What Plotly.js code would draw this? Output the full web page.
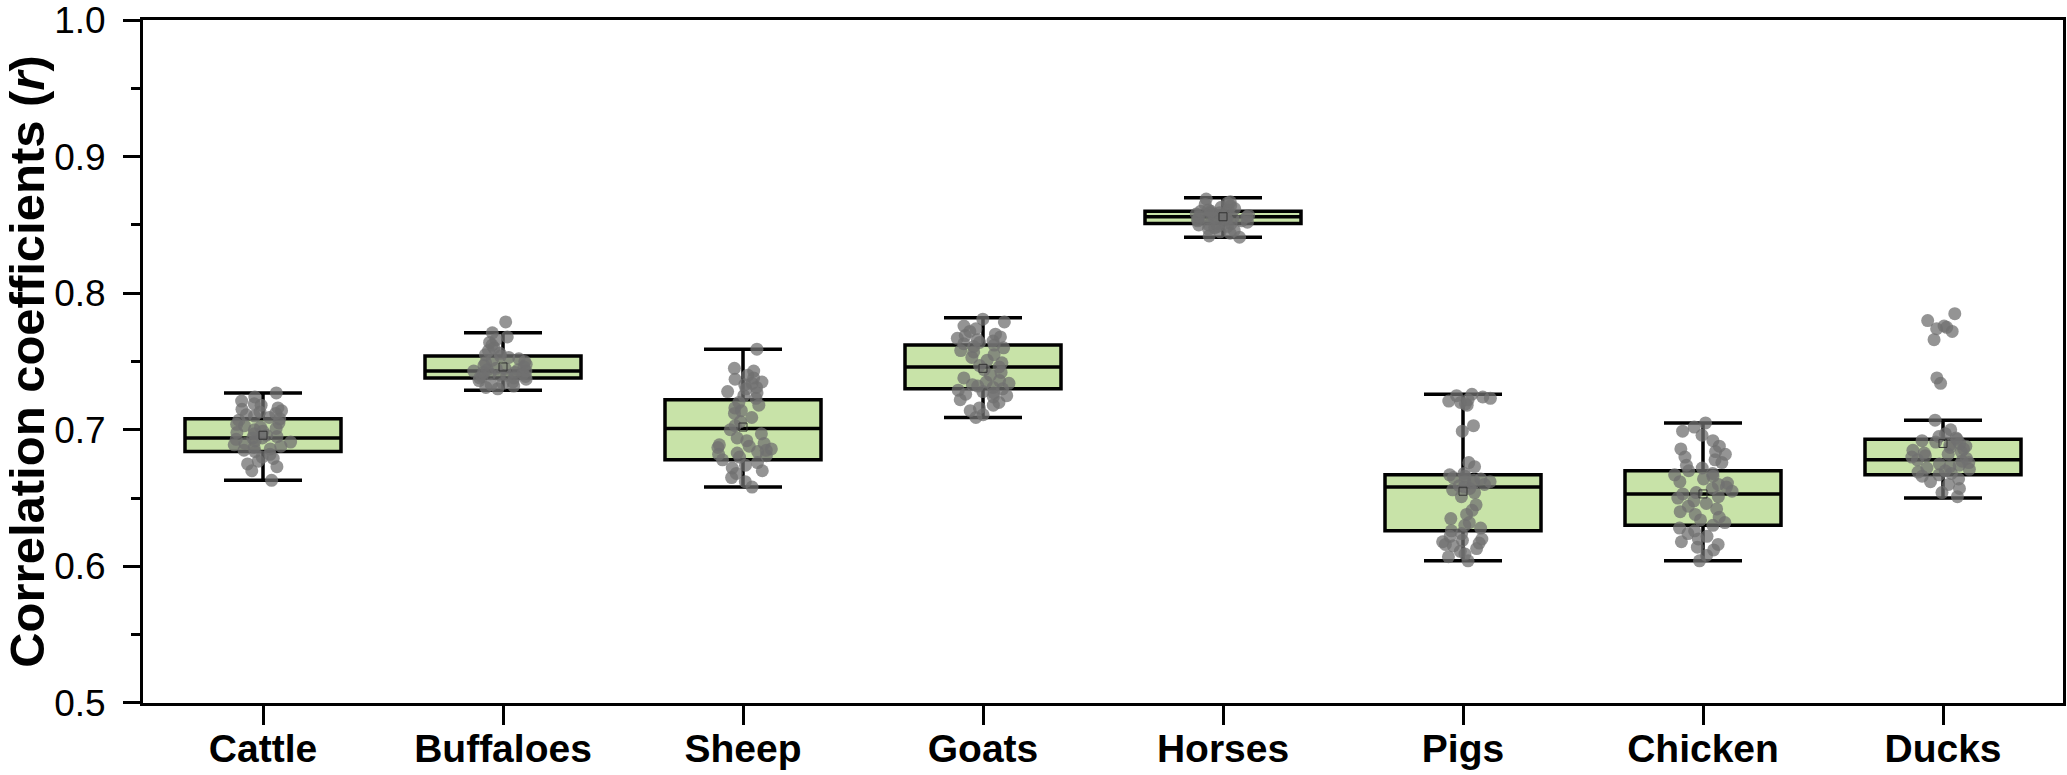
<!DOCTYPE html>
<html>
<head>
<meta charset="utf-8">
<script src="https://cdn.plot.ly/plotly-3.0.1.min.js"></script>
<style>
  body { margin: 0; background: #fff; }
  #plot { width: 2067px; height: 775px; }
</style>
</head>
<body>
<div id="plot"></div>
<script>
// species on the x axis
var species = ["Cattle", "Buffaloes", "Sheep", "Goats", "Horses", "Pigs", "Chicken", "Ducks"];

// box statistics
var q1 = [0.684, 0.738, 0.678, 0.730, 0.851, 0.626, 0.630, 0.667];
var med = [0.694, 0.743, 0.701, 0.746, 0.856, 0.658, 0.653, 0.678];
var q3 = [0.708, 0.754, 0.722, 0.762, 0.860, 0.667, 0.670, 0.693];
var lowWhisker = [0.663, 0.729, 0.658, 0.709, 0.841, 0.604, 0.604, 0.650];
var highWhisker = [0.727, 0.771, 0.759, 0.782, 0.870, 0.726, 0.705, 0.707];
var means = [0.696, 0.746, 0.702, 0.745, 0.856, 0.655, 0.653, 0.690];

// y tick labels
var yTicks = [0.5, 0.6, 0.7, 0.8, 0.9, 1.0];

// individual r values (grey dots)
var cattle = [0.727, 0.724, 0.721, 0.719, 0.718, 0.716, 0.715, 0.714, 0.713, 0.712, 0.711, 0.710, 0.709, 0.708,
  0.707, 0.705, 0.704, 0.703, 0.702, 0.701, 0.700, 0.699, 0.698, 0.697, 0.696, 0.695, 0.694, 0.694, 0.693,
  0.692, 0.691, 0.690, 0.689, 0.688, 0.687, 0.686, 0.685, 0.684, 0.682, 0.680, 0.679, 0.677, 0.675, 0.673,
  0.670, 0.663];
var buffaloes = [0.779, 0.771, 0.768, 0.766, 0.764, 0.762, 0.760, 0.758, 0.756, 0.755, 0.754, 0.753, 0.752,
  0.751, 0.750, 0.749, 0.748, 0.747, 0.746, 0.745, 0.745, 0.744, 0.744, 0.743, 0.743, 0.742, 0.742, 0.741,
  0.741, 0.740, 0.740, 0.739, 0.739, 0.738, 0.738, 0.737, 0.736, 0.735, 0.734, 0.733, 0.732, 0.731, 0.730];
var sheep = [0.759, 0.745, 0.743, 0.740, 0.738, 0.737, 0.735, 0.734, 0.733, 0.731, 0.730, 0.728, 0.727, 0.725,
  0.723, 0.720, 0.718, 0.716, 0.714, 0.712, 0.709, 0.706, 0.703, 0.700, 0.697, 0.694, 0.692, 0.690, 0.689,
  0.688, 0.687, 0.686, 0.685, 0.684, 0.683, 0.682, 0.681, 0.680, 0.678, 0.676, 0.674, 0.672, 0.670, 0.668,
  0.665, 0.662, 0.658];
var goats = [0.781, 0.779, 0.776, 0.774, 0.772, 0.770, 0.769, 0.768, 0.767, 0.766, 0.765, 0.764, 0.763, 0.762,
  0.761, 0.760, 0.758, 0.757, 0.755, 0.753, 0.751, 0.749, 0.747, 0.746, 0.744, 0.742, 0.740, 0.738, 0.736,
  0.735, 0.734, 0.733, 0.732, 0.731, 0.730, 0.729, 0.728, 0.727, 0.726, 0.725, 0.724, 0.722, 0.720, 0.718,
  0.716, 0.714, 0.711, 0.709];
var horses = [0.869, 0.867, 0.866, 0.865, 0.864, 0.863, 0.862, 0.861, 0.861, 0.860, 0.860, 0.859, 0.859, 0.858,
  0.858, 0.857, 0.857, 0.856, 0.856, 0.856, 0.855, 0.855, 0.855, 0.854, 0.854, 0.853, 0.853, 0.852, 0.852,
  0.851, 0.851, 0.850, 0.850, 0.849, 0.849, 0.848, 0.847, 0.846, 0.845, 0.844, 0.842, 0.841];
var pigs = [0.726, 0.725, 0.724, 0.723, 0.722, 0.721, 0.720, 0.719, 0.718, 0.703, 0.699, 0.676, 0.673, 0.668,
  0.667, 0.666, 0.665, 0.664, 0.663, 0.662, 0.662, 0.661, 0.660, 0.659, 0.658, 0.657, 0.656, 0.654, 0.651,
  0.645, 0.641, 0.638, 0.635, 0.632, 0.630, 0.628, 0.626, 0.624, 0.622, 0.620, 0.619, 0.618, 0.617, 0.616,
  0.615, 0.613, 0.611, 0.609, 0.607, 0.604];
var chicken = [0.705, 0.702, 0.699, 0.696, 0.692, 0.688, 0.686, 0.684, 0.682, 0.680, 0.678, 0.676, 0.674, 0.672,
  0.670, 0.668, 0.667, 0.666, 0.664, 0.662, 0.661, 0.660, 0.658, 0.657, 0.655, 0.654, 0.653, 0.651, 0.650,
  0.648, 0.646, 0.644, 0.642, 0.640, 0.638, 0.636, 0.634, 0.632, 0.630, 0.628, 0.626, 0.624, 0.622, 0.620,
  0.618, 0.616, 0.614, 0.612, 0.608, 0.604];
var ducks = [0.785, 0.780, 0.776, 0.775, 0.774, 0.772, 0.766, 0.738, 0.734, 0.707, 0.700, 0.697, 0.695, 0.694,
  0.693, 0.692, 0.691, 0.690, 0.689, 0.688, 0.687, 0.686, 0.685, 0.684, 0.683, 0.682, 0.681, 0.680, 0.679,
  0.678, 0.677, 0.676, 0.675, 0.674, 0.673, 0.672, 0.671, 0.670, 0.669, 0.668, 0.667, 0.666, 0.664, 0.662,
  0.660, 0.657, 0.654, 0.651];

var groups = [cattle, buffaloes, sheep, goats, horses, pigs, chicken, ducks];
var ptX = [], ptY = [];
groups.forEach(function (g, i) {
  g.forEach(function (v) { ptX.push(species[i]); ptY.push(v); });
});

var font = "Arial, 'Liberation Sans', sans-serif";
var boxW = 0.65;

var boxes = {
  type: "box",
  orientation: "v",
  x: species,
  q1: q1, median: med, q3: q3,
  lowerfence: lowWhisker, upperfence: highWhisker,
  width: boxW,
  whiskerwidth: 0.5,
  fillcolor: "#c8e3a8",
  line: { color: "#000", width: 3.5 },
  boxpoints: false,
  hoverinfo: "skip"
};

var dots = {
  type: "box",
  x: ptX,
  y: ptY,
  width: boxW,
  boxpoints: "all",
  jitter: 0.4,
  pointpos: 0,
  fillcolor: "rgba(0,0,0,0)",
  line: { color: "rgba(0,0,0,0)", width: 0 },
  marker: { color: "rgba(112,112,112,0.75)", size: 13 }
};

var meanMarks = {
  type: "scatter",
  mode: "markers",
  x: species,
  y: means,
  marker: { symbol: "square-open", size: 8, color: "#333", line: { width: 1 } },
  hoverinfo: "skip"
};

var layout = {
  width: 2067,
  height: 775,
  margin: { l: 143, r: 4, t: 20, b: 72 },
  paper_bgcolor: "#fff",
  plot_bgcolor: "#fff",
  showlegend: false,
  boxmode: "overlay",
  font: { family: font, color: "#000" },
  xaxis: {
    type: "category",
    range: [-0.5, 7.5],
    showline: true, linecolor: "#000", linewidth: 3, mirror: true,
    ticks: "outside", ticklen: 19, tickwidth: 3, tickcolor: "#000",
    showgrid: false, zeroline: false,
    ticklabelstandoff: -10,
    tickfont: { family: font, size: 39, weight: "bold" }
  },
  yaxis: {
    range: [0.4999, 1.0001],
    tickmode: "array",
    tickvals: yTicks,
    ticktext: yTicks.map(function (v) { return v.toFixed(1); }),
    ticklabeloverflow: "allow",
    showline: true, linecolor: "#000", linewidth: 3, mirror: true,
    ticks: "outside", ticklen: 17, tickwidth: 3, tickcolor: "#000",
    minor: { dtick: 0.05, ticks: "outside", ticklen: 9, tickwidth: 3, tickcolor: "#000", showgrid: false },
    showgrid: false, zeroline: false,
    ticklabelstandoff: 10,
    tickfont: { family: font, size: 37 },
    title: {
      text: "<b>Correlation coefficients (<i>r</i>)</b>",
      font: { family: font, size: 49 },
      standoff: 4
    }
  }
};

Plotly.newPlot("plot", [boxes, dots, meanMarks], layout, { displayModeBar: false, staticPlot: true });
</script>
</body>
</html>
